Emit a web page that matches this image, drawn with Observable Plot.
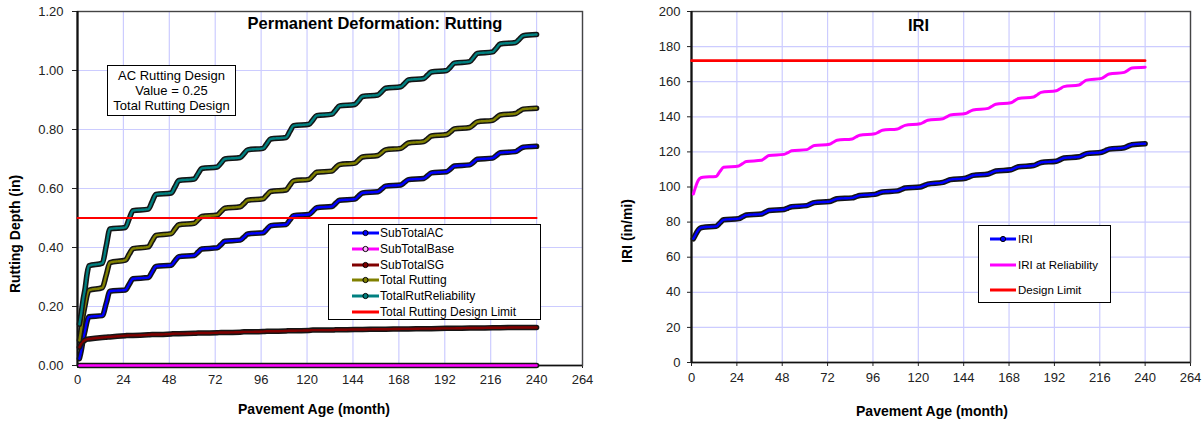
<!DOCTYPE html>
<html><head><meta charset="utf-8">
<script src="https://cdn.jsdelivr.net/npm/d3@7"></script>
<script src="https://cdn.jsdelivr.net/npm/@observablehq/plot@0.6"></script>
<style>
body{margin:0;background:#fff;font-family:"Liberation Sans",Arial,sans-serif;}
#wrap{position:relative;width:1203px;height:424px;overflow:hidden;background:#fff;}
#left,#right{position:absolute;top:0;}
#left{left:0;} #right{left:600px;}
.t{position:absolute;white-space:nowrap;color:#000;line-height:1;}
.title{font-weight:bold;font-size:16.5px;}
.axt{font-weight:bold;font-size:14px;}
.legend{position:absolute;border:1px solid #000;background:#fff;box-sizing:border-box;}
.row{position:absolute;left:0;height:14px;display:flex;align-items:center;color:#000;white-space:nowrap;}
.note{position:absolute;border:1px solid #000;background:#fff;box-sizing:border-box;text-align:center;font-size:13px;line-height:14.8px;padding-top:3px;color:#000;}
</style></head><body>
<div id="wrap">
  <div id="left"></div>
  <div id="right"></div>
</div>
<script>
// ---- data ----
const months = [1,2,3,4,5,6,13,15,17,25,27,29,37,39,41,49,51,53,61,63,65,73,75,77,85,87,89,97,99,101,109,111,113,121,123,125,133,135,137,145,147,149,157,159,161,169,171,173,181,183,185,193,195,197,205,207,209,217,219,221,229,231,233,240];
const subTotalAC = [0.023,0.052,0.090,0.120,0.150,0.165,
 0.169,0.210,0.252, 0.256,0.275,0.294, 0.298,0.317,0.336, 0.340,0.355,0.369,
 0.373,0.384,0.395, 0.399,0.410,0.421, 0.425,0.435,0.446, 0.450,0.462,0.474,
 0.478,0.493,0.508, 0.512,0.523,0.535, 0.539,0.550,0.560, 0.564,0.575,0.585,
 0.589,0.598,0.608, 0.612,0.621,0.630, 0.634,0.643,0.653, 0.657,0.666,0.676,
 0.680,0.689,0.699, 0.703,0.712,0.721, 0.725,0.733,0.740, 0.743];
const subTotalBase = [0,0,0,0,0,0, 0,0,0, 0,0,0, 0,0,0, 0,0,0, 0,0,0, 0,0,0, 0,0,0, 0,0,0,
 0,0,0, 0,0,0, 0,0,0, 0,0,0, 0,0,0, 0,0,0, 0,0,0, 0,0,0, 0,0,0, 0,0,0, 0,0,0, 0];
const subTotalSG = [0.062,0.075,0.082,0.086,0.089,0.090,
 0.095,0.096,0.097, 0.101,0.102,0.102, 0.104,0.105,0.105, 0.107,0.108,0.108,
 0.109,0.110,0.110, 0.111,0.112,0.112, 0.113,0.114,0.114, 0.115,0.116,0.116,
 0.117,0.118,0.118, 0.119,0.120,0.120, 0.120,0.121,0.121, 0.122,0.122,0.122,
 0.123,0.123,0.123, 0.124,0.124,0.124, 0.125,0.125,0.125, 0.126,0.126,0.126,
 0.127,0.127,0.127, 0.128,0.128,0.128, 0.129,0.129,0.129, 0.129];
const totalRutting = [0.085,0.127,0.172,0.206,0.239,0.255,
 0.264,0.306,0.349, 0.357,0.377,0.396, 0.402,0.422,0.441, 0.447,0.463,0.477,
 0.482,0.494,0.505, 0.510,0.522,0.533, 0.538,0.549,0.560, 0.565,0.578,0.590,
 0.595,0.611,0.626, 0.631,0.643,0.655, 0.659,0.671,0.681, 0.686,0.697,0.707,
 0.712,0.721,0.731, 0.736,0.745,0.754, 0.759,0.768,0.778, 0.783,0.792,0.802,
 0.807,0.816,0.826, 0.831,0.840,0.849, 0.854,0.862,0.869, 0.872];
const totalRutReliability = [0.140,0.180,0.226,0.262,0.310,0.338,
 0.347,0.405,0.463, 0.468,0.497,0.525, 0.530,0.555,0.580, 0.585,0.606,0.627,
 0.632,0.650,0.668, 0.673,0.686,0.700, 0.705,0.718,0.731, 0.736,0.752,0.768,
 0.773,0.793,0.813, 0.818,0.832,0.847, 0.852,0.866,0.880, 0.885,0.898,0.912,
 0.917,0.928,0.940, 0.945,0.956,0.968, 0.973,0.984,0.995, 1.000,1.012,1.025,
 1.030,1.044,1.058, 1.063,1.076,1.090, 1.095,1.106,1.118, 1.122];
const iri = [70.5,72.5,74.5,76.0,76.8,77.0,
 77.6,79.5,81.3, 82.0,83.0,84.0, 84.6,85.6,86.6, 87.2,88.0,88.8,
 89.4,90.3,91.1, 91.7,92.5,93.3, 93.8,94.5,95.2, 95.8,96.5,97.2,
 97.8,98.6,99.4, 100.0,100.8,101.6, 102.6,103.4,104.2, 105.0,105.8,106.6,
 107.4,108.3,109.1, 109.8,110.7,111.5, 112.2,113.1,114.0, 114.7,115.6,116.5,
 117.2,118.1,119.0, 119.8,120.7,121.6, 122.4,123.3,124.1, 124.7];
const iriReliability = [96.0,99.5,102.5,104.5,105.3,105.6,
 106.0,108.8,111.2, 112.0,113.3,114.5, 115.2,116.6,117.9, 118.6,119.6,120.6,
 121.3,122.5,123.6, 124.4,125.5,126.6, 127.4,128.5,129.5, 130.3,131.3,132.3,
 133.1,134.1,135.1, 136.0,137.0,138.0, 138.9,140.0,141.0, 141.9,142.9,143.9,
 144.8,146.0,147.1, 148.0,149.2,150.4, 151.3,152.6,153.9, 154.8,156.0,157.2,
 158.1,159.5,160.9, 161.9,163.2,164.4, 165.3,166.6,167.8, 168.3];
const limitMonths = [0, 240];
const rutLimit = [0.5, 0.5];
const iriLimit = [172, 172];
const xTicks = [0,24,48,72,96,120,144,168,192,216,240,264];
const rutTicks = [0,0.2,0.4,0.6,0.8,1.0,1.2];
const iriTicks = [0,20,40,60,80,100,120,140,160,180,200];

const rutNames = ["SubTotalAC","SubTotalBase","SubTotalSG","Total Rutting","TotalRutReliability","Total Rutting Design Limit"];
const rutColors = ["#0000ff","#ff00ff","#800000","#808000","#008080","#ff0000"];
const iriNames = ["IRI","IRI at Reliability","Design Limit"];
const iriColors = ["#0000ff","#ff00ff","#ff0000"];

// ---- helpers ----
const rows = (xs, ys) => xs.map((m, i) => ({m, v: ys[i]}));
function beads(ys, color) {
  const d = rows(months, ys);
  return [
    Plot.line(d, {x: "m", y: "v", stroke: "#151515", strokeWidth: 5.5, curve: "monotone-x", strokeLinejoin: "round", strokeLinecap: "round"}),
    Plot.line(d, {x: "m", y: "v", stroke: color, strokeWidth: 2.4, curve: "monotone-x", strokeDasharray: "1.6,0.8"})
  ];
}
const style = {fontFamily: '"Liberation Sans", Arial, sans-serif', fontSize: "13px", color: "#222", background: "transparent"};

const left = Plot.plot({
  width: 600, height: 424, marginLeft: 77, marginRight: 18, marginTop: 11, marginBottom: 59,
  style,
  x: {domain: [0, 264], ticks: xTicks, tickSize: 3, tickPadding: 6, label: null},
  y: {domain: [0, 1.2], ticks: rutTicks, tickFormat: ".2f", tickSize: 5, tickPadding: 9, label: null},
  marks: [
    Plot.ruleX(xTicks.slice(1), {stroke: "#ccccff", strokeWidth: 1.2}),
    Plot.ruleY(rutTicks.slice(1), {stroke: "#ccccff", strokeWidth: 1.2}),
    Plot.frame({stroke: "#444", strokeWidth: 1.4}),
    Plot.ruleX([0], {stroke: "#111", strokeWidth: 2.2}),
    Plot.ruleY([0], {stroke: "#111", strokeWidth: 1.6}),
    ...beads(subTotalAC, rutColors[0]),
    ...beads(subTotalBase, rutColors[1]),
    ...beads(subTotalSG, rutColors[2]),
    ...beads(totalRutting, rutColors[3]),
    ...beads(totalRutReliability, rutColors[4]),
    Plot.line(rows(limitMonths, rutLimit), {x: "m", y: "v", stroke: rutColors[5], strokeWidth: 2})
  ]
});
document.getElementById("left").appendChild(left);

const right = Plot.plot({
  width: 603, height: 424, marginLeft: 91, marginRight: 13, marginTop: 11, marginBottom: 62,
  style,
  x: {domain: [0, 264], ticks: xTicks, tickSize: 4, tickPadding: 6, label: null},
  y: {domain: [0, 200], ticks: iriTicks, tickSize: 4, tickPadding: 7, label: null},
  marks: [
    Plot.ruleX(xTicks.slice(1), {stroke: "#ccccff", strokeWidth: 1.2}),
    Plot.ruleY(iriTicks.slice(1), {stroke: "#ccccff", strokeWidth: 1.2}),
    Plot.frame({stroke: "#444", strokeWidth: 1.4}),
    Plot.ruleX([0], {stroke: "#111", strokeWidth: 2.2}),
    Plot.ruleY([0], {stroke: "#111", strokeWidth: 1.6}),
    ...beads(iri, iriColors[0]),
    Plot.line(rows(months, iriReliability), {x: "m", y: "v", stroke: iriColors[1], strokeWidth: 3, curve: "monotone-x"}),
    Plot.line(rows(limitMonths, iriLimit), {x: "m", y: "v", stroke: iriColors[2], strokeWidth: 2.6})
  ]
});
document.getElementById("right").appendChild(right);

// ---- text & legends ----
const wrap = document.getElementById("wrap");
function addText(txt, cls, css) {
  const el = document.createElement("div");
  el.className = "t " + cls;
  el.textContent = txt;
  Object.assign(el.style, css);
  wrap.appendChild(el);
  return el;
}
addText("Permanent Deformation: Rutting", "title", {left: "375px", top: "23px", transform: "translate(-50%,-50%)"});
addText("IRI", "title", {left: "908px", top: "25px", transform: "translate(0,-50%)"});
addText("Rutting Depth (in)", "axt", {left: "15px", top: "234px", transform: "translate(-50%,-50%) rotate(-90deg)"});
addText("IRI (in/mi)", "axt", {left: "627px", top: "231px", transform: "translate(-50%,-50%) rotate(-90deg)"});
addText("Pavement Age (month)", "axt", {left: "314px", top: "409px", transform: "translate(-50%,-50%)"});
addText("Pavement Age (month)", "axt", {left: "932px", top: "411px", transform: "translate(-50%,-50%)"});

const note = document.createElement("div");
note.className = "note";
Object.assign(note.style, {left: "107px", top: "65px", width: "129px", height: "51px"});
note.innerHTML = "AC Rutting Design<br>Value = 0.25<br>Total Rutting Design";
wrap.appendChild(note);

function legend(box, names, colors, rowYs, swL, swR, textL, fontSize, markers, markerFills) {
  const lg = document.createElement("div");
  lg.className = "legend";
  Object.assign(lg.style, {left: box[0] + "px", top: box[1] + "px", width: box[2] + "px", height: box[3] + "px"});
  names.forEach((n, i) => {
    const r = document.createElement("div");
    r.className = "row";
    r.style.top = (rowYs[i] - 7) + "px";
    r.style.fontSize = fontSize + "px";
    const w = textL;
    let svg = `<svg width="${w}" height="14" style="flex:none"><line x1="${swL}" x2="${swR}" y1="7" y2="7" stroke="${colors[i]}" stroke-width="3"/>`;
    if (markers[i]) svg += `<circle cx="${(swL + swR) / 2}" cy="7" r="2.6" fill="${markerFills[i]}" stroke="#000" stroke-width="1"/>`;
    svg += `</svg>`;
    r.innerHTML = svg;
    const s = document.createElement("span");
    s.textContent = n;
    r.appendChild(s);
    lg.appendChild(r);
  });
  wrap.appendChild(lg);
}
legend([328, 224, 213, 96], rutNames, rutColors, [8, 24, 39.5, 55, 71, 86.5], 23, 50, 51, 12,
  [true, true, true, true, true, false], ["#0000ff", "#ffb0ff", "#800000", "#808000", "#008080", "#ff0000"]);
legend([978, 225, 133, 78], iriNames, iriColors, [13, 38.5, 64], 11, 37, 39, 11.5,
  [true, false, false], ["#0000ff", "#ff00ff", "#ff0000"]);
</script>
</body></html>
